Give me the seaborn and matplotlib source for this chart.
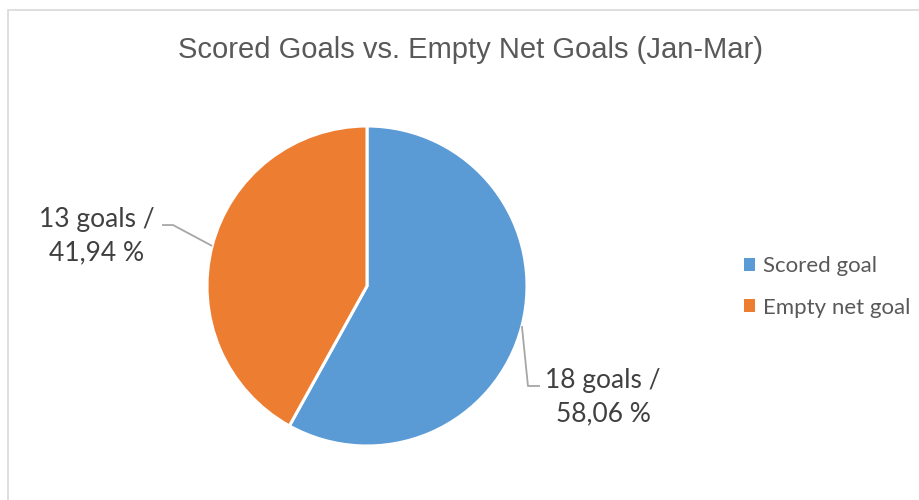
import numpy as np
import matplotlib
matplotlib.use("Agg")
import matplotlib.pyplot as plt
import seaborn as sns
from matplotlib.patches import Rectangle

# Goal breakdown, January to March
categories = ["Scored goal", "Empty net goal"]
goals = [18, 13]
colors = ["#5B9BD5", "#ED7D31"]
title = "Scored Goals vs. Empty Net Goals (Jan-Mar)"

sns.set_theme(style="white")
plt.rcParams["font.family"] = ["Lato", "DejaVu Sans"]

fig = plt.figure(figsize=(9.2, 5.0), dpi=100)
fig.patch.set_facecolor("white")

# chart-area frame (left and top edges visible)
fig.add_artist(Rectangle((8 / 920, -0.1), 1.2, (500 - 10) / 500 + 0.1,
                         transform=fig.transFigure, fill=False,
                         edgecolor="#D9D9D9", linewidth=1.2))

ax = fig.add_axes([(367 - 160) / 920, (500 - 286 - 160) / 500, 320 / 920, 320 / 500])

wedges, _ = ax.pie(goals, colors=sns.color_palette(colors), startangle=90,
                   counterclock=False, radius=1.0,
                   wedgeprops=dict(edgecolor="white", linewidth=2.2))
ax.set_xlim(-1, 1)
ax.set_ylim(-1, 1)
ax.set_aspect("equal")
ax.axis("off")

total = sum(goals)
label_pos = [(1.475, -0.695), (-1.69, 0.31)]
leader_bends = [[(1.006, -0.625), (1.081, -0.625)],
                [(-1.2125, 0.381), (-1.281, 0.381)]]
for w, v, (lx, ly), bends in zip(wedges, goals, label_pos, leader_bends):
    mid = np.deg2rad((w.theta1 + w.theta2) / 2)
    ex, ey = np.cos(mid), np.sin(mid)
    xs = [ex] + [b[0] for b in bends]
    ys = [ey] + [b[1] for b in bends]
    ax.plot(xs, ys, color="#A6A6A6", linewidth=1.3, clip_on=False,
            solid_capstyle="butt")
    pct = f"{100 * v / total:.2f}".replace(".", ",")
    ax.text(lx, ly, f"{v} goals /\n{pct} %", ha="center", va="center",
            fontsize=19, color="#404040", linespacing=1.42, clip_on=False)

fig.text(470 / 920, 1 - 50 / 500, title, ha="center", va="center",
         fontsize=21, color="#595959", family=["Liberation Sans", "DejaVu Sans"])

leg = fig.legend(wedges, categories, loc="center left",
                 bbox_to_anchor=(724 / 920, 1 - 287 / 500), frameon=False,
                 fontsize=16, labelcolor="#595959", handlelength=0.5,
                 handleheight=0.5, handletextpad=0.35, labelspacing=0.95)
for h in leg.legend_handles:
    h.set_edgecolor("none")

fig.savefig("out.png", dpi=100, facecolor="white")
